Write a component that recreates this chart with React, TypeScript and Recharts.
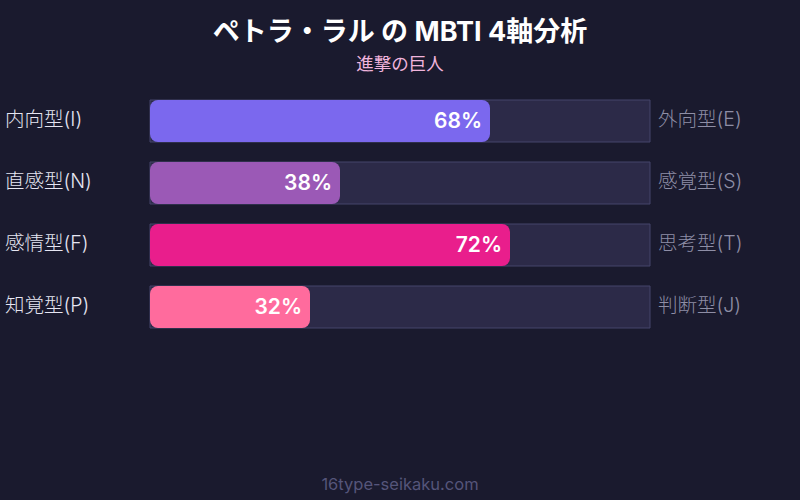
import React from "react";
import { BarChart, Bar, XAxis, YAxis, LabelList, Cell } from "recharts";

const categories = ["I-E", "N-S", "F-T", "P-J"];
const leftLabels = ["内向型(I)", "直感型(N)", "感情型(F)", "知覚型(P)"];
const rightLabels = ["外向型(E)", "感覚型(S)", "思考型(T)", "判断型(J)"];
const values = [68, 38, 72, 32];
const colors = ["#7b68ee", "#9b59b6", "#e91e8c", "#ff6b9d"];

const data = categories.map((c, i) => ({
  key: c,
  left: leftLabels[i],
  right: rightLabels[i],
  value: values[i],
}));

const FONT = "Inter, 'Noto Sans CJK JP', sans-serif";

const LeftTick = (props: any) => {
  const { y, payload } = props;
  const d = data[payload.index];
  return (
    <text x={5} y={y} dy={5} textAnchor="start" fill="#e6e6f2" fontSize={19.5} fontWeight={300} fontFamily={FONT}>
      {d ? d.left : ""}
    </text>
  );
};

const RightTick = (props: any) => {
  const { x, y, payload } = props;
  const d = data[payload.index];
  return (
    <text x={x} y={y} dx={2} dy={5} textAnchor="start" fill="#8e8ea6" fontSize={19.5} fontWeight={300} fontFamily={FONT}>
      {d ? d.right : ""}
    </text>
  );
};

export default function App() {
  return (
    <div
      style={{
        position: "absolute",
        left: 0,
        top: 0,
        width: 800,
        height: 500,
        background: "#1a1a2e",
        fontFamily: FONT,
        overflow: "hidden",
      }}
    >
      <div
        style={{
          position: "absolute",
          top: 14,
          width: 800,
          textAlign: "center",
          color: "#ffffff",
          fontSize: 27,
          fontWeight: 700,
          lineHeight: "36px",
        }}
      >
        ペトラ・ラル の MBTI 4軸分析
      </div>
      <div
        style={{
          position: "absolute",
          top: 52,
          width: 800,
          textAlign: "center",
          color: "#f0b4dc",
          fontSize: 17.5,
          lineHeight: "24px",
        }}
      >
        進撃の巨人
      </div>
      <div style={{ position: "absolute", left: 0, top: 0 }}>
        <BarChart
          width={800}
          height={500}
          data={data}
          layout="vertical"
          margin={{ top: 90, right: 0, bottom: 162, left: 0 }}
        >
          <XAxis type="number" domain={[0, 100]} hide />
          <YAxis
            yAxisId="left"
            type="category"
            dataKey="key"
            width={150}
            axisLine={false}
            tickLine={false}
            tick={<LeftTick />}
            interval={0}
          />
          <YAxis
            yAxisId="right"
            orientation="right"
            type="category"
            dataKey="key"
            width={150}
            axisLine={false}
            tickLine={false}
            tickMargin={0}
            tick={<RightTick />}
            interval={0}
          />
          <Bar
            yAxisId="left"
            dataKey="value"
            barSize={42}
            radius={8}
            isAnimationActive={false}
            background={{ fill: "#2c2a48", stroke: "#44446a", strokeWidth: 1, radius: 0 } as any}
          >
            {data.map((d, i) => (
              <Cell key={d.key} fill={colors[i]} />
            ))}
            <LabelList
              dataKey="value"
              position="insideRight"
              offset={8}
              formatter={(v: any) => `${v}%`}
              fill="#ffffff"
              fontSize={21}
              fontWeight={600}
              fontFamily={FONT}
            />
          </Bar>
        </BarChart>
      </div>
      <div
        style={{
          position: "absolute",
          top: 473,
          width: 800,
          textAlign: "center",
          color: "#55557a",
          fontSize: 16.5,
          lineHeight: "22px",
        }}
      >
        16type-seikaku.com
      </div>
    </div>
  );
}
